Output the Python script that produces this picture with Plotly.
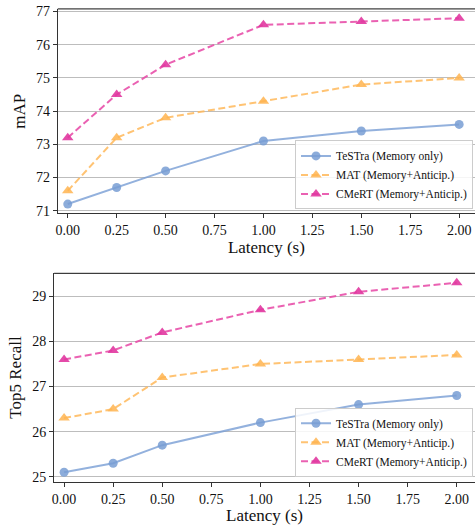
import plotly.graph_objects as go

latency = [0.0, 0.25, 0.5, 1.0, 1.5, 2.0]
series_names = ["TeSTra (Memory only)", "MAT (Memory+Anticip.)", "CMeRT (Memory+Anticip.)"]

map_testra = [71.2, 71.7, 72.2, 73.1, 73.4, 73.6]
map_mat = [71.6, 73.2, 73.8, 74.3, 74.8, 75.0]
map_cmert = [73.2, 74.5, 75.4, 76.6, 76.7, 76.8]

rec_testra = [25.1, 25.3, 25.7, 26.2, 26.6, 26.8]
rec_mat = [26.3, 26.5, 27.2, 27.5, 27.6, 27.7]
rec_cmert = [27.6, 27.8, 28.2, 28.7, 29.1, 29.3]

x_ticks = [0, 0.25, 0.5, 0.75, 1.0, 1.25, 1.5, 1.75, 2.0]
x_ticklabels = ["0.00", "0.25", "0.50", "0.75", "1.00", "1.25", "1.50", "1.75", "2.00"]
map_ticks = [71, 72, 73, 74, 75, 76, 77]
rec_ticks = [25, 26, 27, 28, 29]

FONT = "Liberation Serif, Times New Roman, serif"
styles = [
    dict(line=dict(color="rgba(120,158,212,0.8)", width=2), marker=dict(symbol="circle", size=9, color="rgba(120,158,212,0.85)")),
    dict(line=dict(color="rgba(255,185,90,0.85)", width=2, dash="7px,3.5px"), marker=dict(symbol="triangle-up", size=10, color="rgba(255,180,80,0.85)")),
    dict(line=dict(color="rgba(232,80,170,0.9)", width=2, dash="7px,3.5px"), marker=dict(symbol="triangle-up", size=10, color="rgba(225,55,160,0.9)")),
]

fig = go.Figure()
for name, ys, st in zip(series_names, [map_testra, map_mat, map_cmert], styles):
    fig.add_trace(go.Scatter(x=latency, y=ys, name=name, mode="lines+markers",
                             line=st["line"], marker=st["marker"],
                             xaxis="x", yaxis="y", legend="legend"))
for name, ys, st in zip(series_names, [rec_testra, rec_mat, rec_cmert], styles):
    fig.add_trace(go.Scatter(x=latency, y=ys, name=name, mode="lines+markers",
                             line=st["line"], marker=st["marker"],
                             xaxis="x2", yaxis="y2", legend="legend2"))

W, H = 475, 527
axis_common = dict(
    showline=True, linecolor="#333", linewidth=1, ticks="outside", ticklen=4,
    tickcolor="#333", tickfont=dict(family=FONT, size=14, color="#111"),
    zeroline=False,
)

fig.update_layout(
    width=W, height=H,
    margin=dict(l=0, r=0, t=0, b=0),
    paper_bgcolor="white", plot_bgcolor="white",
    font=dict(family=FONT, color="#111"),
    xaxis=dict(domain=[56 / W, 1], range=[-0.051, 2.081], tickvals=x_ticks, ticktext=x_ticklabels,
               showgrid=False, mirror=False, anchor="y",
               title=dict(text="Latency (s)", font=dict(family=FONT, size=17), standoff=2),
               **axis_common),
    yaxis=dict(domain=[1 - 213 / H, 1 - 5 / H], range=[70.92, 77.08], tickvals=map_ticks,
               showgrid=True, gridcolor="#bdbdbd", gridwidth=1, anchor="x",
               title=dict(text="mAP", font=dict(family=FONT, size=17), standoff=6),
               **axis_common),
    xaxis2=dict(domain=[52.3 / W, 1], range=[-0.051, 2.093], tickvals=x_ticks, ticktext=x_ticklabels,
                showgrid=False, anchor="y2",
                title=dict(text="Latency (s)", font=dict(family=FONT, size=17), standoff=2),
                **axis_common),
    yaxis2=dict(domain=[1 - 486 / H, 1 - 274 / H], range=[24.89, 29.51], tickvals=rec_ticks,
                showgrid=True, gridcolor="#bdbdbd", gridwidth=1, anchor="x2",
                title=dict(text="Top5 Recall", font=dict(family=FONT, size=17), standoff=6),
                **axis_common),
    legend=dict(x=473 / W, y=1 - 209 / H, xanchor="right", yanchor="bottom",
                bgcolor="rgba(255,255,255,0.85)", bordercolor="#cccccc", borderwidth=1,
                font=dict(family=FONT, size=11.5), tracegroupgap=0, itemwidth=30),
    legend2=dict(x=473 / W, y=1 - 481 / H, xanchor="right", yanchor="bottom",
                 bgcolor="rgba(255,255,255,0.85)", bordercolor="#cccccc", borderwidth=1,
                 font=dict(family=FONT, size=11.5), tracegroupgap=0, itemwidth=30),
)

fig.add_shape(type="line", xref="x domain", yref="y domain", x0=0, x1=1, y0=1, y1=1,
              line=dict(color="#111", width=1))
fig.add_shape(type="line", xref="x2 domain", yref="y2 domain", x0=0, x1=1, y0=1, y1=1,
              line=dict(color="#111", width=1))

fig.write_html("out.html", config={"displayModeBar": False})

with open("out.html", "r", encoding="utf-8") as f:
    html = f.read()
style = "<style>html,body{margin:0;padding:0;overflow:hidden;}</style>"
if "<head>" in html:
    html = html.replace("<head>", "<head>" + style, 1)
else:
    html = style + html
with open("out.html", "w", encoding="utf-8") as f:
    f.write(html)
